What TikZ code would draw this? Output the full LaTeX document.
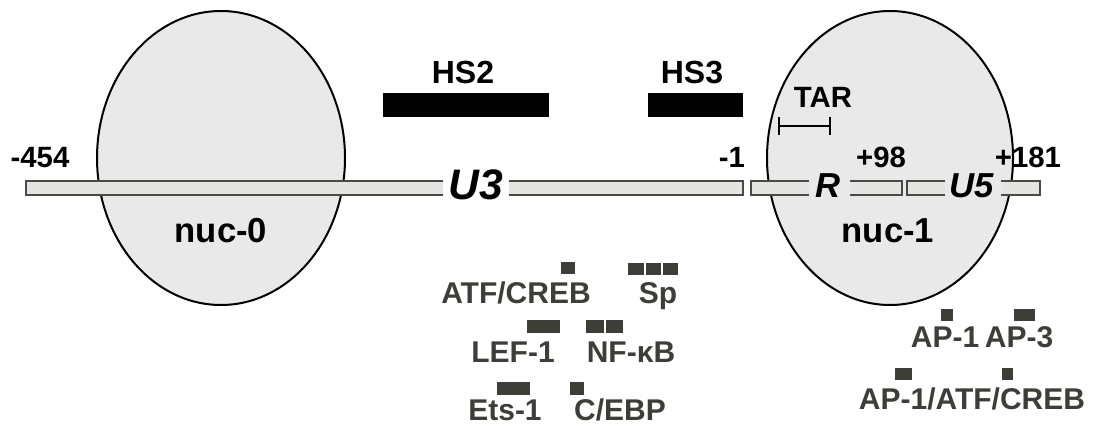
\documentclass[tikz,border=0pt]{standalone}
\usepackage{fontspec}
\setmainfont{Liberation Sans}
\usetikzlibrary{shapes.geometric}
\definecolor{nucfill}{HTML}{E9E9E9}
\definecolor{barfill}{HTML}{E4E4E2}
\definecolor{barline}{HTML}{4A4A44}
\definecolor{tfgray}{HTML}{3E3E39}
\begin{document}
\begin{tikzpicture}[x=0.75pt,y=-0.75pt,
  nucl/.style={ellipse, draw=black, fill=nucfill, line width=1.5pt, inner sep=0pt},
  bfill/.style={fill=barfill},
  bline/.style={draw=barline, line width=1.5pt},
  lbl/.style={font=\bfseries\fontsize{22}{26}\selectfont, inner sep=0pt, anchor=base, text=black},
  hslbl/.style={font=\bfseries\fontsize{24}{28}\selectfont, inner sep=0pt, anchor=base, text=black},
  nuclbl/.style={font=\bfseries\fontsize{26}{30}\selectfont, inner sep=0pt, anchor=base, text=black},
  reglbl/.style={font=\bfseries\itshape\fontsize{26}{30}\selectfont, inner sep=0pt, anchor=base, text=black},
  tflbl/.style={font=\bfseries\fontsize{22.5}{27}\selectfont, inner sep=0pt, anchor=base, text=tfgray},
  tfbox/.style={fill=tfgray},
  hsbar/.style={fill=black}
]
\useasboundingbox (0,0) rectangle (1094,427);

% nucleosomes
\node[nucl, minimum width=186pt, minimum height=220.5pt] (nuc0) at (221,158) {};
\node[nucl, minimum width=184.5pt, minimum height=220.5pt] (nuc1) at (890,158) {};

% HS bars
\fill[hsbar] (383,93) rectangle (549,117);
\fill[hsbar] (648,93) rectangle (743,117);
\node[hslbl] (hs2) at (463,84) {HS2};
\node[hslbl] (hs3) at (692,84) {HS3};

% LTR bar segments
\fill[bfill] (26,181) rectangle (443,195);
\draw[bline] (443,181) -- (26,181) -- (26,195) -- (443,195);
\fill[bfill] (509,181) rectangle (743,195);
\draw[bline] (509,181) -- (743,181) -- (743,195) -- (509,195);
\fill[bfill] (751,181) rectangle (809,195);
\draw[bline] (809,181) -- (751,181) -- (751,195) -- (809,195);
\fill[bfill] (850,181) rectangle (902,195);
\draw[bline] (850,181) -- (902,181) -- (902,195) -- (850,195);
\fill[bfill] (907,181) rectangle (945,195);
\draw[bline] (945,181) -- (907,181) -- (907,195) -- (945,195);
\fill[bfill] (1001,181) rectangle (1040,195);
\draw[bline] (1001,181) -- (1040,181) -- (1040,195) -- (1001,195);

\node[font=\bfseries\itshape\fontsize{32}{36}\selectfont, inner sep=0pt, anchor=base] (u3) at (476,200) {U3};
\node[reglbl] (r) at (828,198) {R};
\node[reglbl] (u5) at (972,198) {U5};

% coordinates
\node[lbl] (p454) at (40,168) {-454};
\node[lbl] (m1) at (732,168) {-1};
\node[lbl] (p98) at (881,168) {+98};
\node[lbl] (p181) at (1028,168) {+181};

% TAR
\node[lbl] (tar) at (823,108) {TAR};
\coordinate (tarL) at (779,126);
\coordinate (tarR) at (830,126);
\draw[line width=1.1pt] (tarL) -- (tarR);
\draw[line width=1.1pt] ([yshift=6.5pt]tarL) -- ([yshift=-6.5pt]tarL);
\draw[line width=1.1pt] ([yshift=6.5pt]tarR) -- ([yshift=-6.5pt]tarR);

\node[nuclbl] (n0) at (221,243) {nuc-0};
\node[nuclbl] (n1) at (888,243) {nuc-1};

% transcription factor sites
\fill[tfbox] (561,262) rectangle (575,274);
\fill[tfbox] (628,263) rectangle (644,275);
\fill[tfbox] (646,263) rectangle (661,275);
\fill[tfbox] (663,263) rectangle (678,275);
\node[tflbl] (atf) at (516,303) {ATF/CREB};
\node[tflbl] (sp) at (658,303) {Sp};

\fill[tfbox] (527,320) rectangle (560,333);
\fill[tfbox] (586,320) rectangle (604,333);
\fill[tfbox] (606,320) rectangle (623,333);
\node[tflbl] (lef) at (513,362) {LEF-1};
\node[tflbl] (nfkb) at (631,362) {NF-κB};

\fill[tfbox] (497,382) rectangle (530,395);
\fill[tfbox] (570,382) rectangle (584,395);
\node[tflbl] (ets) at (505,420) {Ets-1};
\node[tflbl] (cebp) at (620,420) {C/EBP};

\fill[tfbox] (941,309) rectangle (953,321);
\fill[tfbox] (1014,309) rectangle (1035,321);
\node[tflbl] (ap1) at (945,347) {AP-1};
\node[tflbl] (ap3) at (1019,347) {AP-3};

\fill[tfbox] (895,368) rectangle (912,380);
\fill[tfbox] (1002,368) rectangle (1013,380);
\node[tflbl] (ap1atf) at (972,409) {AP-1/ATF/CREB};
\end{tikzpicture}
\end{document}
